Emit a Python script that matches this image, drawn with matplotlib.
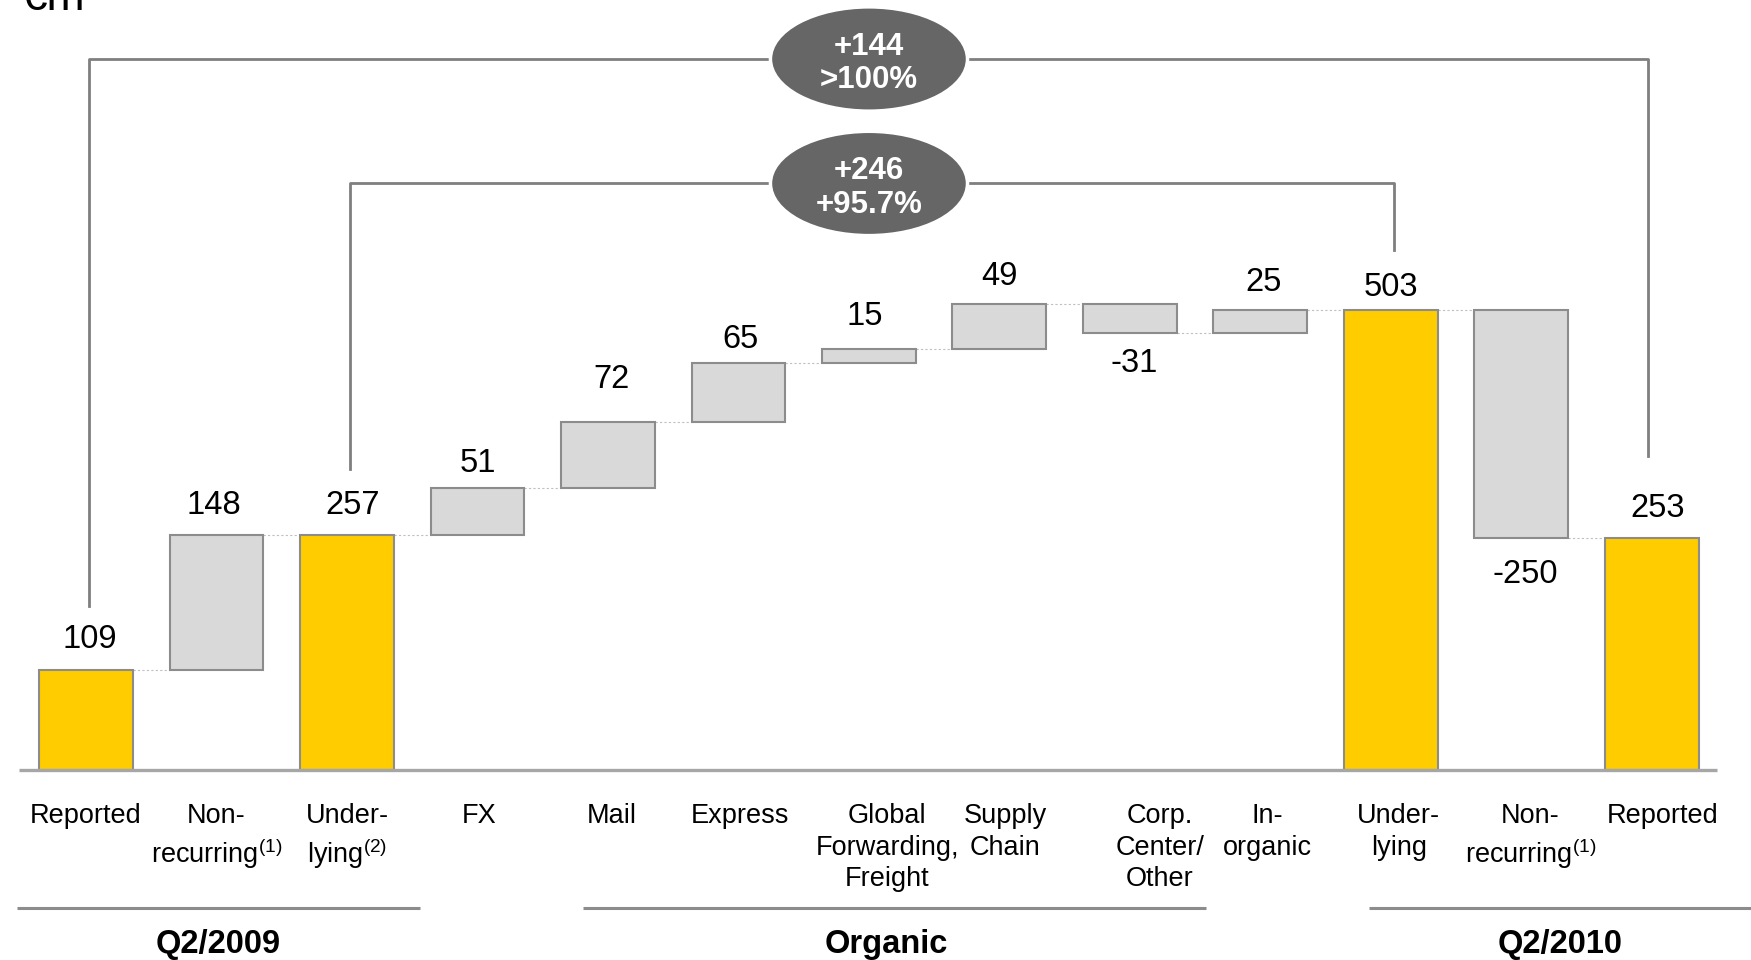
import matplotlib
matplotlib.use("Agg")
import matplotlib.pyplot as plt
import matplotlib.patches as patches

# Данные: водопад EBIT, млн евро
categories = ["Reported", "Non-\nrecurring$^{(1)}$", "Under-\nlying$^{(2)}$", "FX", "Mail",
              "Express", "Global\nForwarding,\nFreight", "Supply\nChain", "Corp.\nCenter/\nOther",
              "In-\norganic", "Under-\nlying", "Non-\nrecurring$^{(1)}$", "Reported"]
values = [109, 148, 257, 51, 72, 65, 15, 49, -31, 25, 503, -250, 253]
kinds = ["total", "delta", "total", "delta", "delta", "delta", "delta", "delta", "delta",
         "delta", "total", "delta", "total"]

group_names = ["Q2/2009", "Organic", "Q2/2010"]
bracket_pairs = [(0, 12), (2, 10)]
bracket_texts = ["+144\n>100%", "+246\n+95.7%"]

# Оформление
YELLOW = "#FFCC00"
GREY_BAR = "#D9D9D9"
EDGE = "#8C8C8C"
LINE = "#7F7F7F"
FONT = ["Liberation Sans", "DejaVu Sans"]

plt.rcParams["font.family"] = FONT
plt.rcParams["mathtext.fontset"] = "custom"
plt.rcParams["mathtext.rm"] = "Liberation Sans"
plt.rcParams["mathtext.it"] = "Liberation Sans"
plt.rcParams["mathtext.bf"] = "Liberation Sans"

# Положения элементов (в координатах данных / пунктах)
bar_width = 0.72
label_dx = [0, 0, 0, 0.015, 0.03, 0.015, 0.14, 0.045, 0.23, 0.05, 0.06, 0.07, 0.08]
value_dx = [0.026, -0.017, 0.043, 0, 0.026, 0.017, -0.034, 0, 0.034, 0.026, 0, 0.026, 0.043]
value_lift = [15.8, 15.0, 15.0, 11.8, 24.7, 11.0, 17.4, 14.2, -28.4, 13.4, 10.2, -32.4, 15.8]
bracket_dx = [(0.025, -0.03), (0.02, 0.02)]
bracket_top = [777, 641]
bracket_legs = [(179, 343), (329, 568)]
ellipse_x = 6
ellipse_w, ellipse_h = 1.51, 114
group_lines = [(-0.53, 2.56), (3.81, 8.58), (9.83, 12.76)]
group_dx = [0, -0.06, 0]

# Расчёт нарастающего итога
bottoms, heights, levels = [], [], []
run = 0
for v, k in zip(values, kinds):
    if k == "total":
        bottoms.append(0)
        heights.append(v)
        run = v
    else:
        bottoms.append(min(run, run + v))
        heights.append(abs(v))
        run += v
    levels.append(run)

fig = plt.figure(figsize=(17.51, 9.6), dpi=100)
ax = fig.add_axes([0, 0, 1, 1])
ax.set_xlim(-0.659, 12.759)
ax.set_ylim(-207.7, 841.5)
ax.axis("off")

x = list(range(len(values)))
colors = [YELLOW if k == "total" else GREY_BAR for k in kinds]
ax.bar(x, heights, bottom=bottoms, width=bar_width, color=colors,
       edgecolor=EDGE, linewidth=1.5, zorder=3)

# Пунктирные соединители
for i in range(len(values) - 1):
    ax.plot([i + bar_width / 2, i + 1 - bar_width / 2], [levels[i], levels[i]],
            color="#C0C0C0", lw=0.8, ls=(0, (2, 2)), zorder=2)

# Базовая линия
ax.plot([-0.513, 12.5], [0, 0], color="#A6A6A6", lw=2.4, solid_capstyle="butt", zorder=4)

# Подписи значений
for i, v in enumerate(values):
    y = bottoms[i] if value_lift[i] < 0 else bottoms[i] + heights[i]
    ax.annotate(f"{v}", (i + value_dx[i], y), xytext=(0, value_lift[i]),
                textcoords="offset points", ha="center", va="baseline",
                fontsize=23.5, color="black")

# Подписи категорий
for i, lab in enumerate(categories):
    ax.text(i + label_dx[i], -36.5, lab, ha="center", va="top", fontsize=19.5,
            linespacing=1.27, multialignment="center")

# Группы
for name, (x0, x1), dx in zip(group_names, group_lines, group_dx):
    ax.plot([x0, x1], [-151, -151], color=EDGE, lw=2.2, solid_capstyle="butt")
    ax.text((x0 + x1) / 2 + dx, -200, name, ha="center", va="baseline", fontsize=23.5,
            fontweight="bold")

# Скобки с приростом
for (a, b), (da, db), top, (la, lb), txt in zip(bracket_pairs, bracket_dx, bracket_top,
                                                bracket_legs, bracket_texts):
    ax.plot([a + da, a + da, b + db, b + db], [la, top, top, lb], color=LINE, lw=2, zorder=1)
    ell = patches.Ellipse((ellipse_x, top), ellipse_w, ellipse_h, facecolor="#666666",
                          edgecolor="white", lw=2.5, zorder=5)
    ax.add_patch(ell)
    ax.text(ellipse_x, top - 5, txt, ha="center", va="center", fontsize=22.5,
            fontweight="bold", color="white", linespacing=1.15, zorder=6)

fig.text(22 / 1751, 1 - 10 / 960, "€m", ha="left", va="baseline", fontsize=33, color="black")

fig.savefig("out.png", dpi=100)
